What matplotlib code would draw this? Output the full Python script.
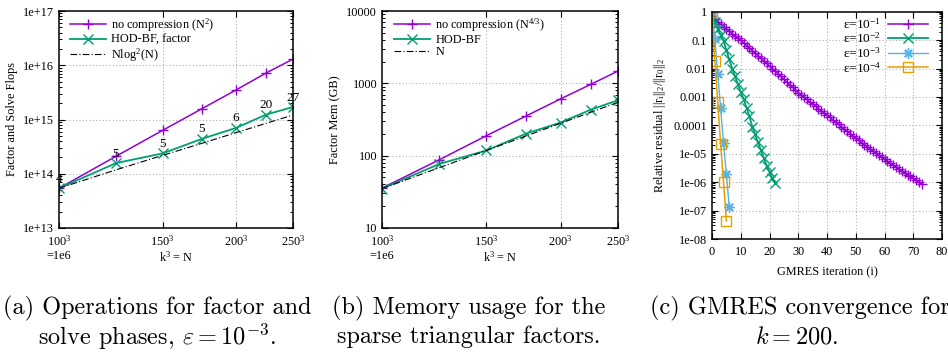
import numpy as np
import matplotlib
matplotlib.use("Agg")
import matplotlib.pyplot as plt
from matplotlib.ticker import FixedLocator, FixedFormatter, NullLocator, LogLocator

plt.rcParams.update({
    "font.family": ["Liberation Serif", "DejaVu Serif"],
    "mathtext.fontset": "custom",
    "mathtext.rm": "Liberation Serif",
    "mathtext.it": "Liberation Serif",
    "mathtext.bf": "Liberation Serif:bold",
    "font.size": 8.8,
    "xtick.direction": "in",
    "ytick.direction": "in",
    "xtick.top": True,
    "ytick.right": True,
    "xtick.major.size": 4,
    "ytick.major.size": 4,
    "xtick.minor.size": 2,
    "ytick.minor.size": 2,
    "xtick.major.width": 0.8,
    "ytick.major.width": 0.8,
    "ytick.minor.width": 0.7,
    "axes.linewidth": 1.1,
    "axes.unicode_minus": True,
})

# ---------------- data ----------------
k = [100, 125, 150, 175, 200, 225, 250]
k_ticks = [100, 150, 200, 250]
k_tick_labels = ["$100^3$\n=1e6", "$150^3$", "$200^3$", "$250^3$"]

flops_nocomp = [5.4e13, 2.1e14, 6.3e14, 1.58e15, 3.5e15, 7.2e15, 1.3e16]
flops_hodbf = [5.4e13, 1.57e14, 2.37e14, 4.4e14, 7.0e14, 1.23e15, 1.7e15]
flops_nlog2n = [5.4e13, 1.18e14, 2.18e14, 3.64e14, 5.72e14, 8.5e14, 1.21e15]
iter_labels = ["4", "5", "5", "5", "6", "20", "27"]
flops_yticks = [1e13, 1e14, 1e15, 1e16, 1e17]
flops_ylabels = ["1e+13", "1e+14", "1e+15", "1e+16", "1e+17"]

mem_nocomp = [35.6, 88, 189, 354, 609, 969, 1480]
mem_hodbf = [35, 77, 118, 202, 287, 433, 584]
mem_n = [35, 68.4, 118, 187.6, 280, 398.7, 547]
mem_yticks = [10, 100, 1000, 10000]
mem_ylabels = ["10", "100", "1000", "10000"]

res_eps1_log10 = [0, -0.25, -0.36, -0.45, -0.53, -0.61, -0.69, -0.77, -0.85, -0.93,
                  -1.01, -1.10, -1.19, -1.28, -1.37, -1.46, -1.55, -1.64, -1.73, -1.82,
                  -1.91, -2.00, -2.10, -2.19, -2.28, -2.38, -2.47, -2.57, -2.66, -2.76,
                  -2.85, -2.93, -3.01, -3.09, -3.17, -3.25, -3.33, -3.41, -3.49, -3.57,
                  -3.64, -3.72, -3.81, -3.89, -3.97, -4.05, -4.13, -4.21, -4.29, -4.38,
                  -4.46, -4.53, -4.61, -4.68, -4.75, -4.83, -4.90, -4.98, -5.05, -5.13,
                  -5.20, -5.27, -5.34, -5.40, -5.47, -5.54, -5.60, -5.67, -5.74, -5.80,
                  -5.87, -5.94, -6.00, -6.07]
res_eps2_log10 = [0, -0.35, -0.60, -0.82, -1.02, -1.35, -1.68, -2.00, -2.27, -2.55,
                  -2.82, -3.08, -3.38, -3.68, -4.05, -4.32, -4.60, -4.88, -5.15, -5.42,
                  -5.65, -5.85, -6.02]
res_eps3_log10 = [0, -0.97, -2.19, -3.40, -4.63, -5.71, -6.89]
res_eps4_log10 = [0, -1.74, -3.19, -4.66, -5.98, -7.37]
eps_labels = ["\u03b5=10$^{-1}$", "\u03b5=10$^{-2}$", "\u03b5=10$^{-3}$", "\u03b5=10$^{-4}$"]
res_yticks = [1, 0.1, 0.01, 0.001, 0.0001, 1e-5, 1e-6, 1e-7, 1e-8]
res_ylabels = ["1", "0.1", "0.01", "0.001", "0.0001", "1e-05", "1e-06", "1e-07", "1e-08"]
gm_xticks = [0, 10, 20, 30, 40, 50, 60, 70, 80]

PURPLE = "#9400D3"
GREEN = "#009E73"
BLUE = "#56B4E9"
ORANGE = "#E69F00"
GRID = dict(color="#b0b0b0", linestyle=(0, (1, 2)), linewidth=0.8)

W, H = 948, 354
fig = plt.figure(figsize=(W / 100, H / 100), dpi=100)


def rect(l, r, t, b):
    return [l / W, 1 - b / H, (r - l) / W, (b - t) / H]


N = [kk ** 3 for kk in k]
N_ticks = [kk ** 3 for kk in k_ticks]


def setup_k_axis(ax):
    ax.set_xscale("log")
    ax.set_xlim(N[0], N[-1])
    ax.xaxis.set_major_locator(FixedLocator(N_ticks))
    ax.xaxis.set_major_formatter(FixedFormatter(k_tick_labels))
    ax.xaxis.set_minor_locator(NullLocator())
    ax.set_xlabel("k$^3$ = N")
    ax.xaxis.set_label_coords(0.5, -0.103)
    for x in N_ticks[1:-1]:
        ax.axvline(x, zorder=0, **GRID)
    ax.tick_params(axis="x", pad=4)


# ---------------- panel a ----------------
ax1 = fig.add_axes(rect(59, 293, 11, 228))
ax1.plot(N, flops_nocomp, color=PURPLE, marker="+", ms=7.5, mew=1.0, lw=1.1,
         label="no compression (N$^2$)")
ax1.plot(N, flops_hodbf, color=GREEN, marker="x", ms=6.5, mew=1.0, lw=1.3,
         label="HOD-BF, factor")
ax1.plot(N, flops_nlog2n, color="black", ls=(0, (6, 2, 1, 2)), lw=0.8,
         label="Nlog$^2$(N)")
for x, y, t in zip(N, flops_hodbf, iter_labels):
    ax1.annotate(t, (x, y), xytext=(0, 2.5), textcoords="offset points",
                 ha="center", va="bottom", fontsize=9.5)
ax1.set_yscale("log")
ax1.set_ylim(1e13, 1e17)
ax1.yaxis.set_major_locator(FixedLocator(flops_yticks))
ax1.yaxis.set_major_formatter(FixedFormatter(flops_ylabels))
ax1.yaxis.set_minor_locator(LogLocator(base=10, subs=np.arange(2, 10)))
for y in flops_yticks[1:-1]:
    ax1.axhline(y, zorder=0, **GRID)
setup_k_axis(ax1)
ax1.set_ylabel("Factor and Solve Flops", labelpad=4)
ax1.legend(loc="upper left", bbox_to_anchor=(0.045, 0.975), frameon=False,
           borderpad=0, borderaxespad=0, handlelength=3.0, handletextpad=0.4,
           labelspacing=0.0)

# ---------------- panel b ----------------
ax2 = fig.add_axes(rect(382, 618, 11, 228))
ax2.plot(N, mem_nocomp, color=PURPLE, marker="+", ms=7.5, mew=1.0, lw=1.1,
         label="no compression (N$^{4/3}$)")
ax2.plot(N, mem_hodbf, color=GREEN, marker="x", ms=6.5, mew=1.0, lw=1.3,
         label="HOD-BF")
ax2.plot(N, mem_n, color="black", ls=(0, (6, 2, 1, 2)), lw=0.8, label="N")
ax2.set_yscale("log")
ax2.set_ylim(10, 10000)
ax2.yaxis.set_major_locator(FixedLocator(mem_yticks))
ax2.yaxis.set_major_formatter(FixedFormatter(mem_ylabels))
ax2.yaxis.set_minor_locator(LogLocator(base=10, subs=np.arange(2, 10)))
for y in mem_yticks[1:-1]:
    ax2.axhline(y, zorder=0, **GRID)
setup_k_axis(ax2)
ax2.set_ylabel("Factor Mem (GB)", labelpad=4)
ax2.legend(loc="upper left", bbox_to_anchor=(0.05, 0.975), frameon=False,
           borderpad=0, borderaxespad=0, handlelength=3.0, handletextpad=0.4,
           labelspacing=0.0)

# ---------------- panel c ----------------
ax3 = fig.add_axes(rect(712, 942, 11.7, 239))
series = [(res_eps1_log10, PURPLE, dict(marker="+", ms=7.5, mew=1.0), 1.1),
          (res_eps2_log10, GREEN, dict(marker="x", ms=6.5, mew=1.0), 1.3),
          (res_eps3_log10, BLUE, dict(marker=(8, 2, 0), ms=7.5, mew=1.0), 1.0),
          (res_eps4_log10, ORANGE, dict(marker="s", ms=7.5, mew=1.0, mfc="none"), 1.1)]
for (vals, col, mk, lw), lab in zip(series, eps_labels):
    it = np.arange(len(vals))
    ax3.plot(it, 10.0 ** np.array(vals), color=col, lw=lw, label=lab, **mk)
ax3.set_yscale("log")
ax3.set_ylim(1e-8, 1)
ax3.set_xlim(0, 80)
ax3.yaxis.set_major_locator(FixedLocator(res_yticks))
ax3.yaxis.set_major_formatter(FixedFormatter(res_ylabels))
ax3.yaxis.set_minor_locator(LogLocator(base=10, subs=np.arange(2, 10)))
ax3.xaxis.set_major_locator(FixedLocator(gm_xticks))
ax3.xaxis.set_minor_locator(NullLocator())
ax3.tick_params(axis="x", pad=5)
for y in res_yticks[1:-1]:
    ax3.axhline(y, zorder=0, **GRID)
for x in gm_xticks[1:-1]:
    ax3.axvline(x, zorder=0, **GRID)
ax3.set_xlabel("GMRES iteration (i)")
ax3.xaxis.set_label_coords(0.5, -0.118)
ax3.set_ylabel("Relative residual ||r$_{i}$||$_{2}$/||r$_{0}$||$_{2}$", labelpad=4)
ax3.legend(loc="upper right", bbox_to_anchor=(1 - 14 / 230, 0.978), frameon=False,
           borderpad=0, borderaxespad=0, handlelength=3.0, handletextpad=0.5,
           labelspacing=0.0, markerfirst=False, fontsize=9.6)

# ---------------- captions ----------------
cap = dict(fontfamily="cmr10", math_fontfamily="cm", fontsize=17.5, ha="center", va="center")
fig.text(157 / W, 1 - 308 / H, "(a) Operations for factor and", **cap)
fig.text(157 / W, 1 - 337 / H, r"solve phases, $\varepsilon = 10^{-3}$.", **cap)
fig.text(469 / W, 1 - 308 / H, "(b) Memory usage for the", **cap)
fig.text(469 / W, 1 - 337 / H, "sparse triangular factors.", **cap)
fig.text(800 / W, 1 - 308 / H, "(c) GMRES convergence for", **cap)
fig.text(797 / W, 1 - 337 / H, r"$k = 200.$", **cap)

fig.savefig("out.png", dpi=100)
